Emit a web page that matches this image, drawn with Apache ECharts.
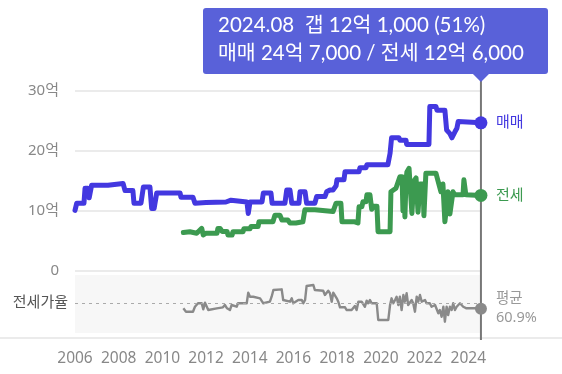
<!DOCTYPE html>
<html><head><meta charset="utf-8">
<script src="https://cdn.jsdelivr.net/npm/echarts@6/dist/echarts.min.js"></script>
<style>html,body{margin:0;padding:0;background:#fff}#c{width:562px;height:374px}</style>
</head><body><div id="c"></div>
<script>
// 매매 (sale price, 억)
const saleX = [2006.00,2006.08,2006.41,2006.46,2006.59,2006.65,2006.73,2006.76,2007.51,2007.56,2008.20,2008.29,2008.65,2008.70,2009.02,2009.13,2009.43,2009.51,2009.62,2009.74,2010.81,2010.85,2011.40,2011.49,2012.00,2012.91,2012.96,2013.14,2013.23,2013.87,2013.93,2014.01,2014.56,2014.62,2014.97,2015.02,2015.61,2015.69,2015.84,2015.92,2016.25,2016.30,2016.53,2016.60,2016.98,2017.06,2017.44,2017.52,2017.67,2017.81,2017.95,2017.99,2018.31,2018.36,2019.00,2019.04,2019.32,2019.36,2020.32,2020.42,2020.49,2020.83,2020.87,2021.15,2021.18,2022.20,2022.24,2022.52,2022.57,2022.93,2023.01,2023.16,2023.25,2023.39,2023.48,2023.54,2024.58];
const saleY = [10.1,11.3,11.3,13.8,13.8,12.2,12.2,14.3,14.3,14.6,14.6,13.4,13.4,11.3,11.3,14.0,14.0,10.4,10.4,13.0,13.0,12.3,12.3,11.3,11.4,11.5,11.8,11.8,11.5,11.5,9.6,11.5,11.5,13.0,13.0,11.3,11.3,13.5,13.5,11.3,11.3,13.2,13.2,11.3,11.3,12.4,12.4,13.2,13.5,13.5,14.2,15.2,15.2,16.55,16.55,17.2,17.2,17.7,17.7,19.6,22.2,22.2,21.8,21.8,21.1,21.1,27.4,27.4,26.8,26.8,23.5,22.9,22.2,23.2,23.8,24.9,24.7];
// 전세 (jeonse price, 억)
const rentX = [2010.96,2011.26,2011.57,2011.80,2011.87,2012.00,2012.50,2012.54,2012.64,2012.73,2012.96,2013.00,2013.19,2013.23,2013.69,2013.73,2014.01,2014.05,2014.38,2014.42,2015.06,2015.15,2015.38,2015.47,2015.74,2015.84,2016.11,2016.16,2016.43,2016.52,2016.98,2017.03,2017.81,2017.90,2017.95,2018.17,2018.22,2018.81,2018.95,2019.00,2019.13,2019.18,2019.32,2019.36,2019.50,2019.58,2019.68,2019.82,2019.87,2020.42,2020.46,2020.69,2020.78,2020.87,2020.97,2021.01,2021.06,2021.10,2021.15,2021.19,2021.29,2021.38,2021.42,2021.51,2021.61,2021.70,2021.79,2021.93,2021.97,2022.06,2022.52,2022.61,2022.75,2022.84,2022.93,2023.02,2023.07,2023.16,2023.25,2023.30,2023.39,2023.76,2023.80,2023.89,2024.58];
const rentY = [6.4,6.55,6.3,7.1,6.0,6.3,6.3,7.1,7.1,6.6,6.6,6.0,6.0,6.55,6.55,7.05,7.05,7.4,7.4,8.2,8.2,9.3,9.3,8.5,8.5,8.0,8.0,8.2,8.2,10.2,10.2,9.9,9.9,9.7,11.3,11.3,8.2,8.2,8.0,10.7,10.7,11.55,11.55,12.7,12.7,10.3,10.8,10.8,6.55,6.55,13.2,13.8,13.8,15.7,15.7,10.0,14.0,9.0,15.0,16.5,17.1,17.1,9.6,15.0,15.5,9.8,14.5,14.5,9.2,16.3,16.3,16.0,13.2,14.5,8.2,11.0,13.2,9.5,9.8,13.2,12.7,12.7,15.2,12.7,12.6];
// 전세가율 (%)
const ratioX = [2010.96,2011.08,2011.40,2011.49,2011.63,2011.80,2011.87,2011.95,2012.04,2012.10,2012.49,2012.54,2012.77,2012.86,2012.96,2013.09,2013.17,2013.23,2013.40,2013.46,2013.86,2013.93,2014.01,2014.16,2014.24,2014.47,2014.54,2014.62,2014.70,2014.92,2015.00,2015.08,2015.15,2015.46,2015.53,2015.84,2015.92,2015.99,2016.07,2016.22,2016.38,2016.45,2016.53,2016.60,2016.68,2016.91,2016.98,2017.06,2017.36,2017.44,2017.52,2017.59,2017.67,2017.75,2017.82,2017.90,2017.98,2018.05,2018.13,2018.36,2018.43,2018.66,2018.74,2018.81,2018.89,2018.97,2019.12,2019.19,2019.27,2019.35,2019.42,2019.50,2019.58,2019.81,2019.88,2020.34,2020.42,2020.49,2020.57,2020.65,2020.72,2020.80,2020.87,2020.95,2021.03,2021.10,2021.18,2021.25,2021.33,2021.41,2021.48,2021.56,2021.64,2021.71,2021.79,2021.87,2021.94,2022.02,2022.09,2022.24,2022.32,2022.48,2022.55,2022.63,2022.70,2022.78,2022.86,2022.93,2023.01,2023.08,2023.16,2023.24,2023.31,2023.39,2023.47,2023.62,2023.77,2023.92,2024.30,2024.58];
const ratioY = [51.7,46.0,46.0,54.4,60.2,60.2,50.0,61.2,61.2,48.8,51.7,53.4,53.4,57.3,51.7,48.8,57.3,54.4,54.4,60.2,60.2,78.1,71.3,71.3,68.6,68.6,71.3,60.2,62.9,62.9,71.3,82.6,83.8,83.8,65.7,62.9,68.6,60.2,62.9,65.7,65.7,60.2,65.7,89.4,91.1,91.1,82.6,81.5,81.5,74.2,72.5,81.5,77.1,62.9,78.1,78.1,68.6,62.9,53.4,53.4,48.8,48.8,46.0,55.6,48.8,62.9,62.9,65.7,54.4,64.6,60.2,65.7,60.2,60.2,32.0,32.0,57.3,68.6,60.2,65.7,71.3,57.3,71.3,48.8,74.2,62.9,77.1,57.3,60.2,65.7,60.2,46.0,71.3,62.9,74.2,62.9,60.2,65.7,60.2,60.2,54.4,57.3,54.4,43.3,48.8,37.5,54.4,29.1,54.4,40.4,54.4,48.8,60.2,48.8,54.4,60.2,54.4,51.7,51.7,51.0];
const ratioAvg = 60.9;
const yTicks = [0, 10, 20, 30];
const tipLine1 = '2024.08  갭 12억 1,000 (51%)';
const tipLine2 = '매매 24억 7,000 / 전세 12억 6,000';

const BLUE = '#4338e0', GREEN = '#3c9a50', GRAY = '#8a8a8a';
const FONT = '"Noto Sans","Noto Sans CJK KR",sans-serif';
const pair = (xs, ys) => xs.map((x, i) => [x, ys[i]]);
const last = (xs, ys) => [[xs[xs.length - 1], ys[ys.length - 1]]];
const X_MIN = 2006, X_MAX = 2024.583;

const chart = echarts.init(document.getElementById('c'));
chart.setOption({
  animation: false,
  grid: [
    { left: 75, top: 91, width: 406, height: 180 },
    { left: 75, top: 275, width: 406, height: 58, show: true, backgroundColor: '#f7f7f7', borderWidth: 0 }
  ],
  xAxis: [
    { type: 'value', gridIndex: 0, min: X_MIN, max: X_MAX, show: false },
    { type: 'value', gridIndex: 1, min: X_MIN, max: X_MAX, interval: 2,
      axisLine: { show: false }, axisTick: { show: false }, splitLine: { show: false },
      axisLabel: { margin: 18, color: '#888', fontSize: 15.5, fontFamily: FONT, showMaxLabel: false, showMinLabel: true,
        formatter: v => Number.isInteger(v) ? String(v) : '' } }
  ],
  yAxis: [
    { type: 'value', gridIndex: 0, min: yTicks[0], max: yTicks[yTicks.length - 1], interval: 10,
      axisLine: { show: false }, axisTick: { show: false },
      splitLine: { lineStyle: { color: '#ebebeb', width: 2 } },
      axisLabel: { margin: 16, color: '#888', fontSize: 15, fontFamily: FONT, formatter: v => v === 0 ? '0' : v + '억' } },
    { type: 'value', gridIndex: 1, min: 10, max: 108, show: false }
  ],
  series: [
    { type: 'line', xAxisIndex: 0, yAxisIndex: 0, data: pair(saleX, saleY), showSymbol: false, silent: true,
      lineStyle: { color: BLUE, width: 5, cap: 'round', join: 'round' },
      endLabel: { show: true, formatter: '매매', color: BLUE, fontSize: 15, fontFamily: FONT, distance: 15 } },
    { type: 'line', xAxisIndex: 0, yAxisIndex: 0, data: pair(rentX, rentY), showSymbol: false, silent: true,
      lineStyle: { color: GREEN, width: 5, cap: 'round', join: 'round' },
      endLabel: { show: true, formatter: '전세', color: GREEN, fontSize: 15, fontFamily: FONT, distance: 15 } },
    { type: 'line', xAxisIndex: 1, yAxisIndex: 1, data: pair(ratioX, ratioY), showSymbol: false, silent: true,
      lineStyle: { color: GRAY, width: 2.4, join: 'round' },
      endLabel: { show: true, formatter: '평균\n' + ratioAvg + '%', color: '#999', fontSize: 14.5, lineHeight: 19, fontFamily: FONT, distance: 15 },
      markLine: { silent: true, symbol: ['none', 'none'], data: [{ yAxis: ratioAvg }],
        lineStyle: { color: '#aaa', width: 1, type: [3, 4] },
        label: { show: true, position: 'start', formatter: '전세가율', color: '#555', fontSize: 15, fontFamily: FONT, distance: 7 } } },
    { type: 'scatter', xAxisIndex: 0, yAxisIndex: 0, data: last(saleX, saleY), symbolSize: 13, itemStyle: { color: BLUE, opacity: 1 }, silent: true, z: 5 },
    { type: 'scatter', xAxisIndex: 0, yAxisIndex: 0, data: last(rentX, rentY), symbolSize: 13, itemStyle: { color: GREEN, opacity: 1 }, silent: true, z: 5 },
    { type: 'scatter', xAxisIndex: 1, yAxisIndex: 1, data: last(ratioX, ratioY), symbolSize: 12, itemStyle: { color: GRAY, opacity: 1 }, silent: true, z: 5 }
  ]
});

const cx = chart.convertToPixel({ xAxisIndex: 0 }, saleX[saleX.length - 1]);
const bottomY = chart.convertToPixel({ yAxisIndex: 1 }, 10);
const boxTop = 8, boxH = 66, boxL = 203, boxR = 548;
const TIPFONT = '20.5px Lato, "Noto Sans CJK KR", sans-serif';
chart.setOption({
  graphic: [
    { type: 'line', z: 0, shape: { x1: 0, y1: bottomY + 5, x2: 562, y2: bottomY + 5 }, style: { stroke: '#ebebeb', lineWidth: 2 }, silent: true },
    { type: 'line', z: 1, shape: { x1: cx, y1: boxTop + boxH + 6, x2: cx, y2: bottomY + 7 }, style: { stroke: '#777', lineWidth: 2 }, silent: true },
    { type: 'rect', z: 10, shape: { x: boxL, y: boxTop, width: boxR - boxL, height: boxH, r: 3 }, style: { fill: '#5961d9' }, silent: true },
    { type: 'polygon', z: 10, shape: { points: [[cx - 8, boxTop + boxH], [cx + 8, boxTop + boxH], [cx, boxTop + boxH + 8]] }, style: { fill: '#5961d9' }, silent: true },
    { type: 'text', z: 11, style: { text: tipLine1, x: 218, y: 25, verticalAlign: 'middle', fill: '#fff', font: TIPFONT }, silent: true },
    { type: 'text', z: 11, style: { text: tipLine2, x: 218, y: 53, verticalAlign: 'middle', fill: '#fff', font: TIPFONT }, silent: true }
  ]
});
</script>
</body></html>
